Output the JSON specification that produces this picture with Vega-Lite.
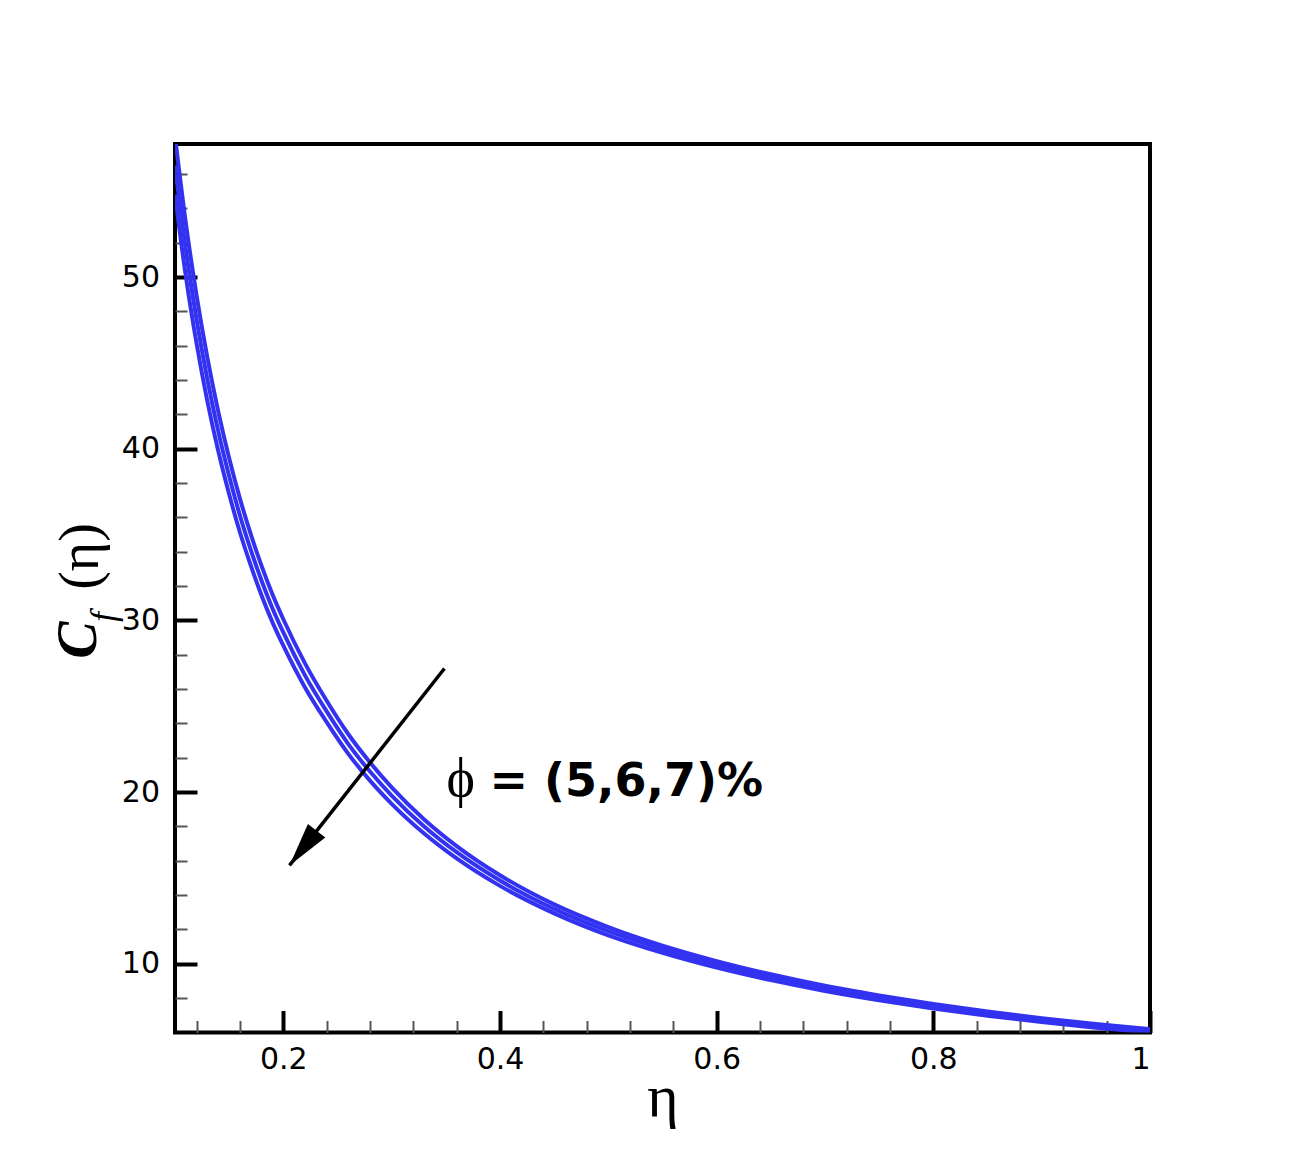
{
  "$schema": "https://vega.github.io/schema/vega-lite/v6.json",
  "width": 975,
  "height": 888.5,
  "autosize": {"type": "none"},
  "padding": {"left": 175, "top": 144, "right": 162, "bottom": 136},
  "background": "white",
  "config": {
    "view": {"stroke": "black", "strokeWidth": 4, "fill": "white"},
    "axis": {"grid": false, "domain": false}
  },
  "datasets": {
    "curves": [
      {"eta":0.10,"cf":58.2,"phi":"5%"},{"eta":0.11,"cf":53.15,"phi":"5%"},{"eta":0.12,"cf":48.9,"phi":"5%"},{"eta":0.13,"cf":45.27,"phi":"5%"},{"eta":0.14,"cf":42.15,"phi":"5%"},{"eta":0.15,"cf":39.45,"phi":"5%"},{"eta":0.16,"cf":37.08,"phi":"5%"},{"eta":0.17,"cf":35.01,"phi":"5%"},{"eta":0.18,"cf":33.16,"phi":"5%"},{"eta":0.19,"cf":31.51,"phi":"5%"},{"eta":0.20,"cf":30.07,"phi":"5%"},{"eta":0.22,"cf":27.5,"phi":"5%"},{"eta":0.24,"cf":25.32,"phi":"5%"},{"eta":0.26,"cf":23.37,"phi":"5%"},{"eta":0.28,"cf":21.73,"phi":"5%"},{"eta":0.30,"cf":20.28,"phi":"5%"},{"eta":0.33,"cf":18.41,"phi":"5%"},{"eta":0.36,"cf":16.86,"phi":"5%"},{"eta":0.40,"cf":15.16,"phi":"5%"},{"eta":0.45,"cf":13.46,"phi":"5%"},{"eta":0.50,"cf":12.14,"phi":"5%"},{"eta":0.55,"cf":11.06,"phi":"5%"},{"eta":0.60,"cf":10.16,"phi":"5%"},{"eta":0.65,"cf":9.39,"phi":"5%"},{"eta":0.70,"cf":8.72,"phi":"5%"},{"eta":0.75,"cf":8.16,"phi":"5%"},{"eta":0.80,"cf":7.66,"phi":"5%"},{"eta":0.85,"cf":7.22,"phi":"5%"},{"eta":0.90,"cf":6.83,"phi":"5%"},{"eta":0.95,"cf":6.50,"phi":"5%"},{"eta":1.00,"cf":6.20,"phi":"5%"},
      {"eta":0.10,"cf":56.5,"phi":"6%"},{"eta":0.11,"cf":51.6,"phi":"6%"},{"eta":0.12,"cf":47.5,"phi":"6%"},{"eta":0.13,"cf":44.0,"phi":"6%"},{"eta":0.14,"cf":41.0,"phi":"6%"},{"eta":0.15,"cf":38.4,"phi":"6%"},{"eta":0.16,"cf":36.1,"phi":"6%"},{"eta":0.17,"cf":34.1,"phi":"6%"},{"eta":0.18,"cf":32.3,"phi":"6%"},{"eta":0.19,"cf":30.7,"phi":"6%"},{"eta":0.20,"cf":29.3,"phi":"6%"},{"eta":0.22,"cf":26.8,"phi":"6%"},{"eta":0.24,"cf":24.7,"phi":"6%"},{"eta":0.26,"cf":22.8,"phi":"6%"},{"eta":0.28,"cf":21.2,"phi":"6%"},{"eta":0.30,"cf":19.8,"phi":"6%"},{"eta":0.33,"cf":18.0,"phi":"6%"},{"eta":0.36,"cf":16.5,"phi":"6%"},{"eta":0.40,"cf":14.85,"phi":"6%"},{"eta":0.45,"cf":13.2,"phi":"6%"},{"eta":0.50,"cf":11.9,"phi":"6%"},{"eta":0.55,"cf":10.85,"phi":"6%"},{"eta":0.60,"cf":9.97,"phi":"6%"},{"eta":0.65,"cf":9.22,"phi":"6%"},{"eta":0.70,"cf":8.57,"phi":"6%"},{"eta":0.75,"cf":8.02,"phi":"6%"},{"eta":0.80,"cf":7.53,"phi":"6%"},{"eta":0.85,"cf":7.10,"phi":"6%"},{"eta":0.90,"cf":6.72,"phi":"6%"},{"eta":0.95,"cf":6.39,"phi":"6%"},{"eta":1.00,"cf":6.10,"phi":"6%"},
      {"eta":0.10,"cf":54.8,"phi":"7%"},{"eta":0.11,"cf":50.05,"phi":"7%"},{"eta":0.12,"cf":46.1,"phi":"7%"},{"eta":0.13,"cf":42.73,"phi":"7%"},{"eta":0.14,"cf":39.85,"phi":"7%"},{"eta":0.15,"cf":37.35,"phi":"7%"},{"eta":0.16,"cf":35.12,"phi":"7%"},{"eta":0.17,"cf":33.19,"phi":"7%"},{"eta":0.18,"cf":31.44,"phi":"7%"},{"eta":0.19,"cf":29.89,"phi":"7%"},{"eta":0.20,"cf":28.53,"phi":"7%"},{"eta":0.22,"cf":26.1,"phi":"7%"},{"eta":0.24,"cf":24.08,"phi":"7%"},{"eta":0.26,"cf":22.23,"phi":"7%"},{"eta":0.28,"cf":20.67,"phi":"7%"},{"eta":0.30,"cf":19.32,"phi":"7%"},{"eta":0.33,"cf":17.59,"phi":"7%"},{"eta":0.36,"cf":16.14,"phi":"7%"},{"eta":0.40,"cf":14.54,"phi":"7%"},{"eta":0.45,"cf":12.94,"phi":"7%"},{"eta":0.50,"cf":11.66,"phi":"7%"},{"eta":0.55,"cf":10.64,"phi":"7%"},{"eta":0.60,"cf":9.78,"phi":"7%"},{"eta":0.65,"cf":9.05,"phi":"7%"},{"eta":0.70,"cf":8.42,"phi":"7%"},{"eta":0.75,"cf":7.88,"phi":"7%"},{"eta":0.80,"cf":7.40,"phi":"7%"},{"eta":0.85,"cf":6.98,"phi":"7%"},{"eta":0.90,"cf":6.61,"phi":"7%"},{"eta":0.95,"cf":6.28,"phi":"7%"},{"eta":1.00,"cf":6.00,"phi":"7%"}
    ],
    "arrow": [
      {"eta": 0.3487, "cf": 27.2, "part": "tail"},
      {"eta": 0.2057, "cf": 15.73, "part": "tip"}
    ],
    "annotation": [
      {"eta": 0.3506, "cf": 19.8, "symbol": "ϕ", "rest": "= (5,6,7)%", "eta2": 0.3903}
    ]
  },
  "resolve": {"axis": {"x": "independent", "y": "independent"}},
  "layer": [
    {
      "data": {"name": "curves"},
      "mark": {"type": "line", "color": "#3232f0", "strokeWidth": 4, "interpolate": "monotone", "clip": true},
      "encoding": {
        "x": {
          "field": "eta", "type": "quantitative",
          "scale": {"domain": [0.1, 1], "nice": false, "zero": false},
          "axis": {
            "orient": "bottom", "values": [0.2, 0.4, 0.6, 0.8, 1], "format": "~g",
            "tickSize": -22, "tickWidth": 4, "tickColor": "black",
            "labelPadding": 34, "labelFont": "DejaVu Sans", "labelFontSize": 30, "labelColor": "black",
            "title": "η", "titleFont": "Liberation Serif", "titleFontSize": 60, "titleFontWeight": "normal",
            "titleColor": "black", "titleY": 82.5, "titleBaseline": "alphabetic"
          }
        },
        "y": {
          "field": "cf", "type": "quantitative",
          "scale": {"domain": [6, 57.75], "nice": false, "zero": false},
          "axis": {
            "orient": "left", "values": [10, 20, 30, 40, 50],
            "tickSize": -22, "tickWidth": 4, "tickColor": "black",
            "labelPadding": 37.5, "labelFont": "DejaVu Sans", "labelFontSize": 30, "labelColor": "black",
            "title": "C", "titleFont": "Liberation Serif", "titleFontSize": 56, "titleFontWeight": "bold",
            "titleFontStyle": "italic", "titleColor": "black", "titleAngle": 270,
            "titleX": -80, "titleY": 495.5, "titleAlign": "center", "titleBaseline": "alphabetic"
          }
        },
        "detail": {"field": "phi", "type": "nominal"}
      }
    },
    {
      "data": {"name": "arrow"},
      "mark": {"type": "line", "color": "black", "strokeWidth": 3.5},
      "encoding": {
        "x": {
          "field": "eta", "type": "quantitative",
          "axis": {
            "orient": "bottom",
            "values": [0.12, 0.16, 0.24, 0.28, 0.32, 0.36, 0.44, 0.48, 0.52, 0.56, 0.64, 0.68, 0.72, 0.76, 0.84, 0.88, 0.92, 0.96],
            "tickSize": -12, "tickWidth": 2, "tickColor": "#555555", "labels": false, "title": null
          }
        },
        "y": {
          "field": "cf", "type": "quantitative",
          "axis": {
            "orient": "left",
            "values": [8, 12, 14, 16, 18, 22, 24, 26, 28, 32, 34, 36, 38, 42, 44, 46, 48, 52, 54, 56],
            "tickSize": -12, "tickWidth": 2, "tickColor": "#555555", "labels": false,
            "title": "f", "titleFont": "Liberation Serif", "titleFontSize": 36, "titleFontWeight": "normal",
            "titleFontStyle": "italic", "titleColor": "black", "titleAngle": 270,
            "titleX": -60.5, "titleY": 472.5, "titleAlign": "center", "titleBaseline": "alphabetic"
          }
        }
      }
    },
    {
      "data": {"name": "arrow"},
      "transform": [{"filter": "datum.part === 'tip'"}],
      "mark": {"type": "point", "shape": "M0,0L-0.5,2L0.5,2Z", "size": 1936, "angle": 218, "filled": true, "color": "black", "opacity": 1},
      "encoding": {
        "x": {"field": "eta", "type": "quantitative", "axis": null},
        "y": {
          "field": "cf", "type": "quantitative",
          "axis": {
            "orient": "left", "ticks": false, "labels": false,
            "title": "(η)", "titleFont": "Liberation Serif", "titleFontSize": 56, "titleFontWeight": "normal",
            "titleColor": "black", "titleAngle": 270,
            "titleX": -78, "titleY": 412, "titleAlign": "center", "titleBaseline": "alphabetic"
          }
        }
      }
    },
    {
      "data": {"name": "annotation"},
      "mark": {"type": "text", "font": "Liberation Serif", "fontSize": 54, "align": "left", "baseline": "alphabetic", "color": "black"},
      "encoding": {
        "x": {"field": "eta", "type": "quantitative", "axis": null},
        "y": {"field": "cf", "type": "quantitative", "axis": null},
        "text": {"field": "symbol"}
      }
    },
    {
      "data": {"name": "annotation"},
      "mark": {"type": "text", "font": "DejaVu Sans", "fontSize": 46, "fontWeight": "bold", "align": "left", "baseline": "alphabetic", "color": "black"},
      "encoding": {
        "x": {"field": "eta2", "type": "quantitative", "axis": null},
        "y": {"field": "cf", "type": "quantitative", "axis": null},
        "text": {"field": "rest"}
      }
    }
  ]
}
